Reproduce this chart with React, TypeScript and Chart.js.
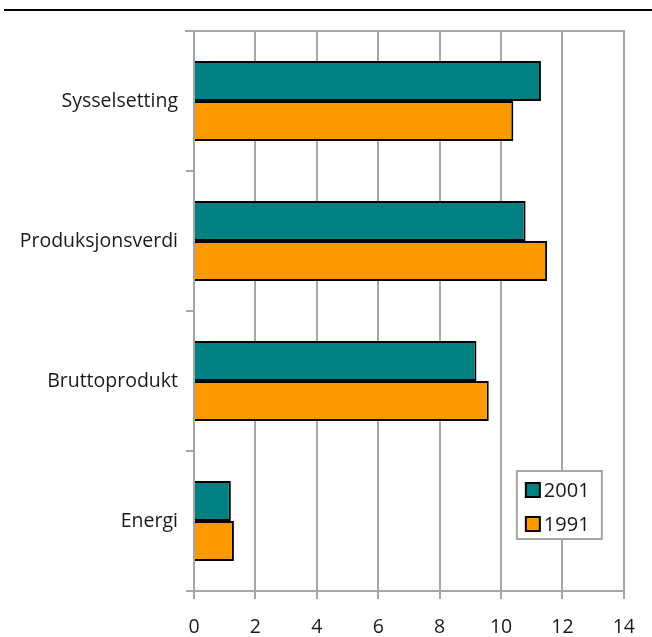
import React, { useEffect, useRef } from "react";
import { Chart, registerables } from "chart.js";

Chart.register(...registerables);

const categories = ["Sysselsetting", "Produksjonsverdi", "Bruttoprodukt", "Energi"];
const series2001 = [11.3, 10.8, 9.2, 1.2];
const series1991 = [10.4, 11.5, 9.6, 1.3];
const seriesLabels = ["2001", "1991"];
const xTicks = [0, 2, 4, 6, 8, 10, 12, 14];

const FONT = "'Open Sans', 'DejaVu Sans', sans-serif";
const GRID = "#a6a6a6";
const TEXT = "#1a1a1a";

// Frame line along the top of the plot area plus the rule above the chart
const framePlugin = {
  id: "frame",
  afterDraw(chart: any) {
    const { ctx, chartArea } = chart;
    ctx.save();
    ctx.strokeStyle = GRID;
    ctx.lineWidth = 2;
    ctx.beginPath();
    ctx.moveTo(chartArea.left - 9, chartArea.top);
    ctx.lineTo(chartArea.right + 1, chartArea.top);
    ctx.stroke();
    ctx.strokeStyle = "#000";
    ctx.lineWidth = 2;
    ctx.beginPath();
    ctx.moveTo(4, 10);
    ctx.lineTo(chart.width, 10);
    ctx.stroke();
    ctx.restore();
  },
};

// Boxed legend inside the plot, lower right
const boxLegendPlugin = {
  id: "boxLegend",
  afterDraw(chart: any) {
    const { ctx, chartArea } = chart;
    const w = 85;
    const h = 68;
    const x = chartArea.right - 107;
    const y = chartArea.bottom - 120;
    ctx.save();
    ctx.fillStyle = "#fff";
    ctx.fillRect(x, y, w, h);
    ctx.strokeStyle = GRID;
    ctx.lineWidth = 2;
    ctx.strokeRect(x, y, w, h);
    ctx.font = `20px ${FONT}`;
    ctx.textBaseline = "middle";
    chart.data.datasets.forEach((ds: any, i: number) => {
      const cy = y + 19 + i * 34;
      ctx.fillStyle = ds.backgroundColor;
      ctx.fillRect(x + 9, cy - 7, 14, 14);
      ctx.strokeStyle = "#000";
      ctx.lineWidth = 2;
      ctx.strokeRect(x + 9, cy - 7, 14, 14);
      ctx.fillStyle = TEXT;
      ctx.fillText(ds.label, x + 27, cy + 1);
    });
    ctx.restore();
  },
};

export default function App() {
  const ref = useRef<HTMLCanvasElement>(null);

  useEffect(() => {
    const canvas = ref.current;
    if (!canvas) return;
    const chart = new Chart(canvas, {
      type: "bar",
      data: {
        labels: categories,
        datasets: [
          {
            label: seriesLabels[0],
            data: series2001,
            backgroundColor: "#008080",
            borderColor: "#000",
            borderWidth: 2,
            categoryPercentage: 80 / 140,
            barPercentage: 1,
          },
          {
            label: seriesLabels[1],
            data: series1991,
            backgroundColor: "#ff9900",
            borderColor: "#000",
            borderWidth: 2,
            categoryPercentage: 80 / 140,
            barPercentage: 1,
          },
        ],
      },
      options: {
        indexAxis: "y",
        responsive: false,
        animation: false,
        devicePixelRatio: 1,
        layout: { padding: { top: 31, right: 28, left: 0, bottom: 0 } },
        plugins: {
          legend: { display: false },
          tooltip: { enabled: false },
        },
        scales: {
          x: {
            min: 0,
            max: 14,
            afterBuildTicks: (scale: any) => {
              scale.ticks = xTicks.map((v) => ({ value: v }));
            },
            afterFit: (scale: any) => {
              scale.height = 46;
            },
            grid: {
              color: GRID,
              lineWidth: 2,
              tickLength: 8,
              drawTicks: true,
            },
            border: { color: GRID, width: 2 },
            ticks: {
              color: TEXT,
              font: { family: FONT, size: 19.5 },
              padding: 17,
              maxRotation: 0,
            },
          },
          y: {
            z: 1,
            afterFit: (scale: any) => {
              scale.width = 194;
            },
            grid: {
              offset: true,
              drawOnChartArea: false,
              color: GRID,
              lineWidth: 2,
              tickLength: 8,
            },
            border: { color: GRID, width: 2 },
            ticks: {
              color: TEXT,
              font: { family: FONT, size: 19.5 },
              padding: 8,
            },
          },
        },
      },
      plugins: [framePlugin, boxLegendPlugin],
    });
    return () => chart.destroy();
  }, []);

  return (
    <div style={{ position: "fixed", left: 0, top: 0, width: 652, height: 637, background: "#fff" }}>
      <canvas ref={ref} width={652} height={637} style={{ display: "block", width: 652, height: 637 }} />
    </div>
  );
}
